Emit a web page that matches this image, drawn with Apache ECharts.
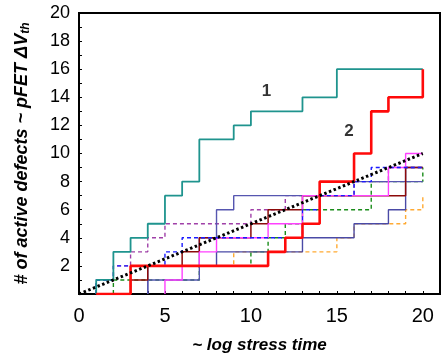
<!DOCTYPE html>
<html>
    <head>
        <meta charset="utf-8">
        <title>active defects</title>
        <script src="https://cdn.jsdelivr.net/npm/echarts@6/dist/echarts.min.js"></script>
        <style>
            body { margin: 0; background: #fff; }
        </style>
    </head>
    <body>
        <div id="chart" style="width: 443px;height: 356px;"></div>
        <script>
            // step curves: [x where the count changes, new count]
            var teal    = [[1,0],[1,1],[2,3],[3,4],[4,5],[5,7],[6,8],[7,11],[9,12],[10,13],[13,14],[15,16],[20,16]];
            var red     = [[1,0],[3,2],[11,3],[12,4],[13,5],[14,8],[16,10],[17,13],[18,14],[20,16]];
            var navyHi  = [[4,0],[4,1],[7,4],[8,6],[9,7],[14,8],[20,8]];
            var navyLo  = [[4,0],[4,2],[8,3],[13,4],[16,5],[18,6],[19,9],[20,9]];
            var blueDash   = [[1,0],[1,1],[2,2],[5,3],[6,4],[13,6],[14,7],[16,8],[17,9],[20,9]];
            var purpleDash = [[1,0],[1,1],[2,2],[3,3],[4,4],[5,5],[10,6],[12,7],[16,8],[18,9],[20,9]];
            var greenDash  = [[2,0],[2,1],[7,2],[10,3],[11,4],[12,5],[13,6],[17,8],[20,9]];
            var darkRed = [[3,0],[3,1],[4,2],[6,3],[7,4],[10,5],[11,6],[13,7],[19,9],[20,9]];
            var magenta = [[5,0],[5,1],[6,2],[7,3],[8,4],[11,5],[13,7],[18,9],[19,10],[20,10]];
            var orangeDash = [[3,0],[3,2],[9,3],[15,4],[16,5],[19,6],[20,7]];
            var meanLine = [[0,0],[20,10]];
            var curveTags = [[10.9,14.4,'1'],[15.7,11.6,'2']];

            var font = 'Liberation Sans, Arial, sans-serif';

            function stepLine(name, data, color, width, dash, z) {
                return {
                    name: name,
                    type: 'line',
                    step: 'end',
                    data: data,
                    symbol: 'none',
                    silent: true,
                    z: z,
                    lineStyle: { color: color, width: width, type: dash }
                };
            }

            var option = {
                animation: false,
                backgroundColor: '#fff',
                grid: {
                    left: 79, top: 13, right: 3, bottom: 62,
                    outerBoundsMode: 'none',
                    containLabel: false,
                    show: true,
                    borderColor: '#000',
                    borderWidth: 2
                },
                xAxis: {
                    type: 'value',
                    min: 0, max: 21, interval: 1,
                    name: '~ log stress time',
                    nameLocation: 'middle',
                    nameGap: 43,
                    nameTextStyle: { fontFamily: font, fontSize: 17, fontWeight: 'bold', fontStyle: 'italic', color: '#000' },
                    axisLine: { lineStyle: { color: '#000', width: 2 } },
                    axisTick: { inside: true, length: 3, lineStyle: { color: '#000' } },
                    axisLabel: {
                        margin: 12,
                        fontFamily: font, fontSize: 20, color: '#000',
                        formatter: function (v) { return v % 5 === 0 && v <= 20 ? v : ''; }
                    },
                    splitLine: { show: false }
                },
                yAxis: {
                    type: 'value',
                    min: 0, max: 20, interval: 1,
                    name: '# of active defects ~ pFET \u0394V{sub|th}',
                    nameLocation: 'middle',
                    nameGap: 47,
                    nameTextStyle: {
                        fontFamily: font, fontSize: 18, fontWeight: 'bold', fontStyle: 'italic', color: '#000',
                        rich: { sub: { fontFamily: font, fontSize: 12, fontWeight: 'bold', fontStyle: 'italic', color: '#000', verticalAlign: 'bottom', padding: [7, 0, 0, 0] } }
                    },
                    axisLine: { lineStyle: { color: '#000', width: 2 } },
                    axisTick: { inside: true, length: 3, lineStyle: { color: '#000' } },
                    axisLabel: {
                        margin: 9,
                        fontFamily: font, fontSize: 18, color: '#000',
                        formatter: function (v) { return v > 0 && v % 2 === 0 ? v : ''; }
                    },
                    splitLine: { show: false }
                },
                series: [
                    stepLine('orange', orangeDash, '#ffaa33', 1.4, [4, 3], 2),
                    stepLine('green', greenDash, '#1a8c1a', 1.4, [4, 3], 2),
                    stepLine('purple', purpleDash, '#a040a8', 1.4, [4, 3], 2),
                    stepLine('navyLo', navyLo, '#4a4aa6', 1.4, 'solid', 3),
                    stepLine('navyHi', navyHi, '#5656b0', 1.4, 'solid', 3),
                    stepLine('darkred', darkRed, '#8c0a0a', 1.5, 'solid', 3),
                    stepLine('magenta', magenta, '#ff40ff', 1.4, 'solid', 3),
                    stepLine('blue', blueDash, '#1a1aff', 1.4, [4, 3], 4),
                    stepLine('teal', teal, '#1f948e', 1.8, 'solid', 5),
                    stepLine('red', red, '#ff0a0a', 2.6, 'solid', 6),
                    {
                        name: 'mean',
                        type: 'line',
                        data: meanLine,
                        symbol: 'none',
                        silent: true,
                        z: 7,
                        lineStyle: { color: '#000', width: 3, type: [2.5, 2.5] }
                    },
                    {
                        name: 'tags',
                        type: 'scatter',
                        data: curveTags,
                        symbolSize: 0,
                        silent: true,
                        z: 8,
                        label: {
                            show: true,
                            position: 'inside',
                            fontFamily: font, fontSize: 17, fontWeight: 'bold', color: '#000',
                            formatter: function (p) { return p.value[2]; }
                        }
                    }
                ]
            };

            var chart = echarts.init(document.getElementById('chart'));
            chart.setOption(option);
        </script>
    </body>
</html>
